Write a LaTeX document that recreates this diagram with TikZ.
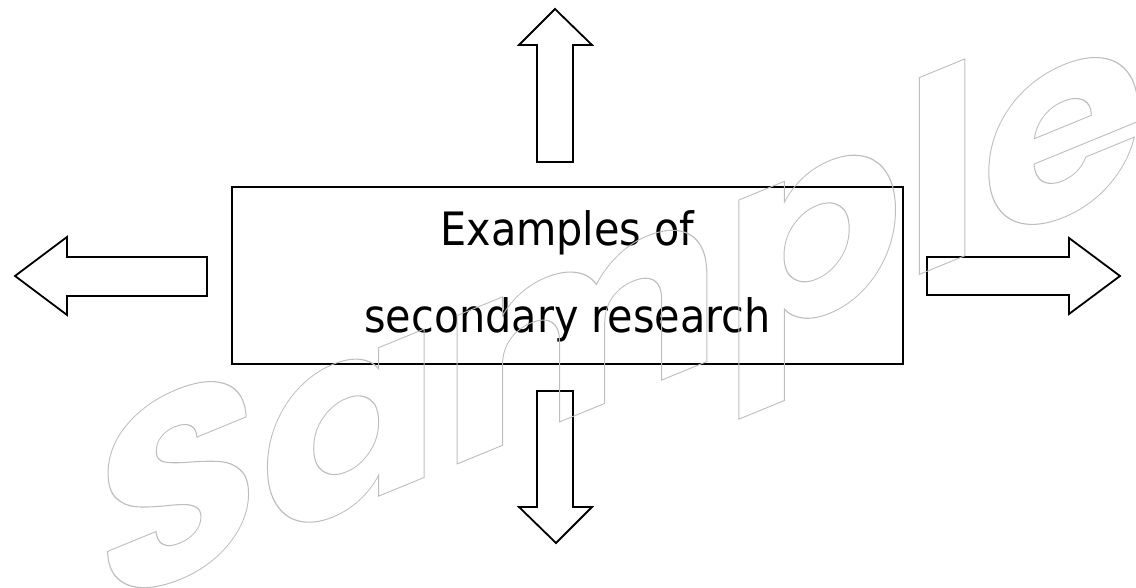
\documentclass[tikz,border=0pt]{standalone}
\usepackage{fontspec}
\setmainfont{DejaVu Sans Condensed}
\newfontfamily\wmfont{Poppins}
\definecolor{wmgray}{RGB}{190,190,190}
% outline text (stroke only)
\newcommand{\outlined}[1]{\special{pdf:literal direct 1 Tr 0.5 w}#1\special{pdf:literal direct 0 Tr}}

\begin{document}
\begin{tikzpicture}[x=0.5pt, y=-0.5pt,
    panel/.style={rectangle, draw, line width=1pt, minimum width=335.5pt, minimum height=88.5pt,
        align=center, font=\fontsize{23}{43.5}\selectfont},
    blockarrow/.style={draw, line width=0.9pt, line join=miter},
    watermark/.style={anchor=base west, inner sep=0pt, yslant=0.41, text=wmgray,
        font=\wmfont\bfseries\fontsize{133}{133}\selectfont}
]
    \useasboundingbox (0,0) rectangle (1136,588);
    \clip (0,0) rectangle (1136,588);

    % Central box
    \node[panel] (box) at (567.5,276) {Examples of\\secondary research};

    % Block arrows
    \draw[blockarrow] (537,162) -- (537,45) -- (519,45) -- (555,9) -- (592,45) -- (573,45) -- (573,162) -- cycle;
    \draw[blockarrow] (537,391) -- (537,507) -- (519,507) -- (556,543) -- (592,507) -- (573,507) -- (573,391) -- cycle;
    \draw[blockarrow] (207,257) -- (67,257) -- (67,237) -- (15,276) -- (67,315) -- (67,296) -- (207,296) -- cycle;
    \draw[blockarrow] (927,257) -- (1069,257) -- (1069,238) -- (1120,276) -- (1069,314) -- (1069,295) -- (927,295) -- cycle;

    % Watermark
    \node[watermark] (wm) at (96,612) {\outlined{Sample}};
\end{tikzpicture}
\end{document}
